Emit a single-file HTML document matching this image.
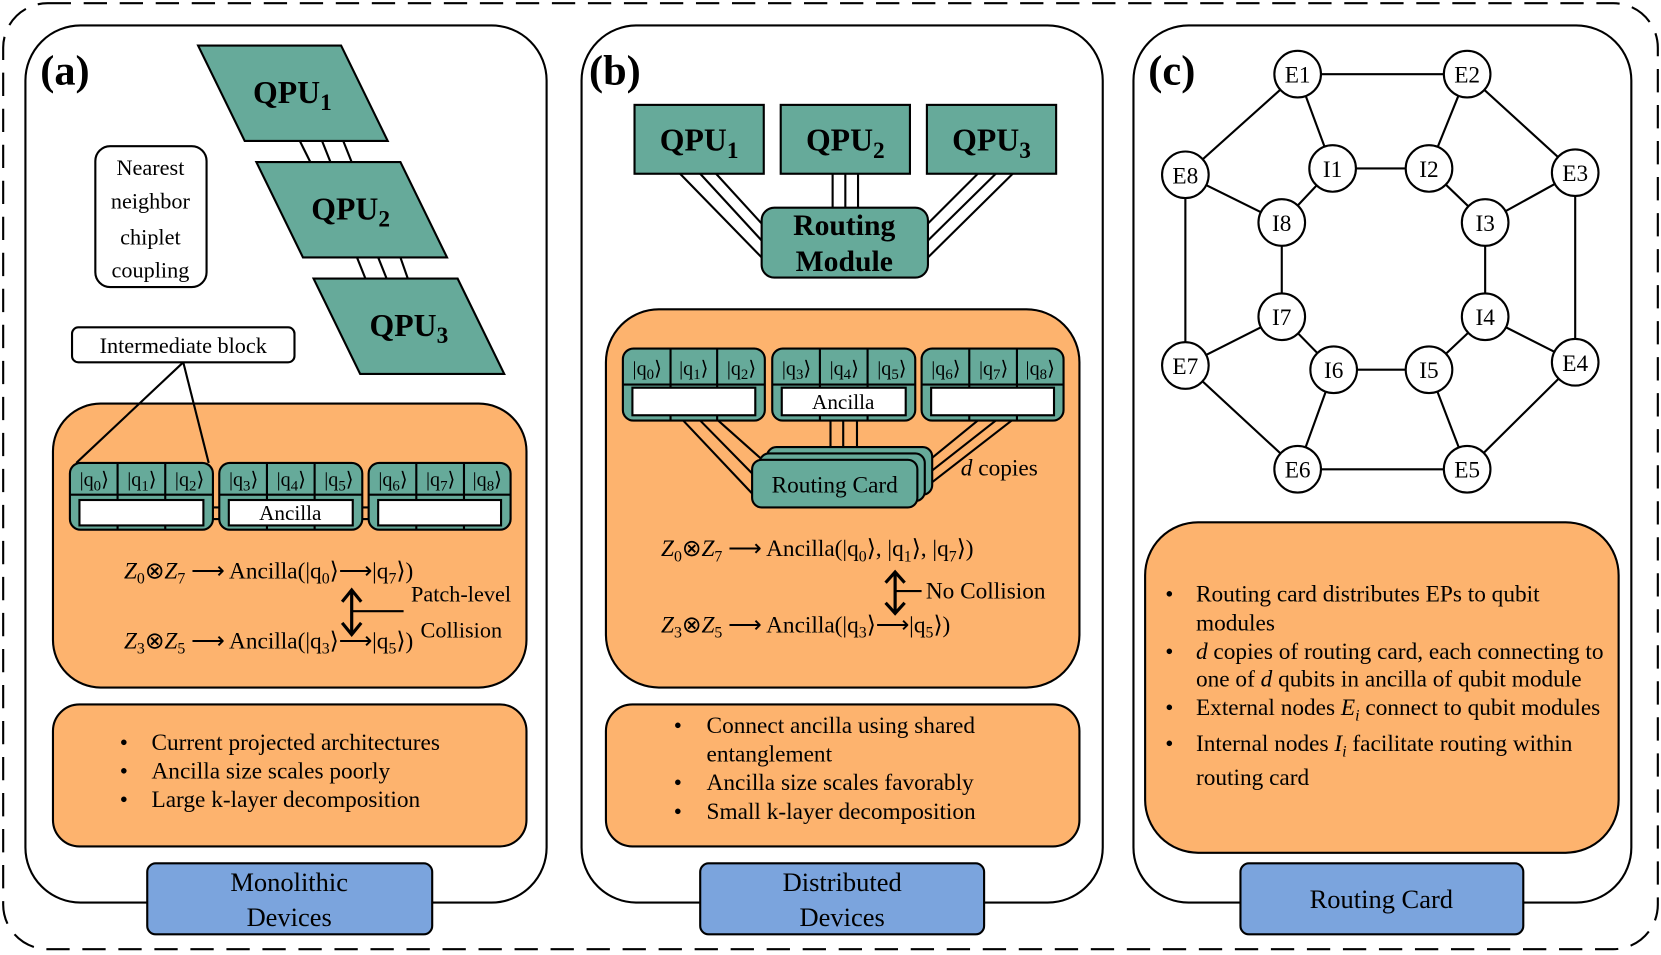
<!DOCTYPE html>
<html><head><meta charset="utf-8"><style>
html,body{margin:0;padding:0;background:#fff;width:1661px;height:955px;overflow:hidden}
svg{display:block}
text{font-family:"Liberation Serif",serif;fill:#000}
.b{font-weight:bold}
</style></head><body>
<svg width="1661" height="955" viewBox="0 0 1568 901.5" xmlns="http://www.w3.org/2000/svg">
<g fill="none" stroke="#000" stroke-width="2">
<rect x="3" y="3" width="1562" height="893" rx="42" stroke-dasharray="22 12"/>
<rect x="24" y="24" width="492" height="828" rx="52"/>
<rect x="549" y="24" width="492" height="828" rx="52"/>
<rect x="1070" y="24" width="470" height="828" rx="52"/>
</g>
<text x="38" y="80" font-size="40" class="b">(a)</text>
<text x="556" y="80" font-size="40" class="b">(b)</text>
<text x="1084" y="80" font-size="40" class="b">(c)</text>

<!-- Panel a -->
<g stroke="#000" stroke-width="2">
<line x1="283" y1="133" x2="293" y2="153"/><line x1="304" y1="133" x2="312" y2="153"/><line x1="324" y1="133" x2="332" y2="153"/>
<line x1="337" y1="243" x2="345" y2="263"/><line x1="357" y1="243" x2="365" y2="263"/><line x1="378" y1="243" x2="385" y2="263"/>
</g>
<g fill="#66aa9a" stroke="#000" stroke-width="2">
<polygon points="187,43 322,43 366,133 231,133"/>
<polygon points="242,153 378,153 422,243 286,243"/>
<polygon points="296,263 432,263 476,353 340,353"/>
</g>
<text x="276" y="97" font-size="30" class="b" text-anchor="middle">QPU<tspan font-size="22" dy="7">1</tspan></text>
<text x="331" y="207" font-size="30" class="b" text-anchor="middle">QPU<tspan font-size="22" dy="7">2</tspan></text>
<text x="386" y="317" font-size="30" class="b" text-anchor="middle">QPU<tspan font-size="22" dy="7">3</tspan></text>
<rect x="90" y="138" width="105" height="133" rx="14" fill="#fff" stroke="#000" stroke-width="2"/>
<g font-size="21" text-anchor="middle"><text x="142" y="165">Nearest</text><text x="142" y="197">neighbor</text><text x="142" y="231">chiplet</text><text x="142" y="262">coupling</text></g>
<rect x="50" y="381" width="447" height="268" rx="45" fill="#fdb36e" stroke="#000" stroke-width="2"/>
<rect x="68" y="309" width="210" height="33" rx="6" fill="#fff" stroke="#000" stroke-width="2"/>
<text x="173" y="333" font-size="21" text-anchor="middle">Intermediate block</text>
<g stroke="#000" stroke-width="2"><line x1="173" y1="342" x2="72" y2="437"/><line x1="173" y1="342" x2="197" y2="437"/></g>

<g stroke="#000" stroke-width="2">
<line x1="201" y1="479" x2="207" y2="479"/><line x1="201" y1="490" x2="207" y2="490"/>
<line x1="342" y1="479" x2="348" y2="479"/><line x1="342" y1="490" x2="348" y2="490"/>
<rect x="66" y="437" width="135" height="63" rx="10" fill="#66aa9a"/>
<rect x="207" y="437" width="135" height="63" rx="10" fill="#66aa9a"/>
<rect x="348" y="437" width="134" height="63" rx="10" fill="#66aa9a"/>
<line x1="66" y1="467" x2="201" y2="467"/><line x1="207" y1="467" x2="342" y2="467"/><line x1="348" y1="467" x2="482" y2="467"/>
<line x1="111" y1="437" x2="111" y2="500"/><line x1="156" y1="437" x2="156" y2="500"/>
<line x1="252" y1="437" x2="252" y2="500"/><line x1="297" y1="437" x2="297" y2="500"/>
<line x1="393" y1="437" x2="393" y2="500"/><line x1="438" y1="437" x2="438" y2="500"/>
<rect x="75" y="472" width="117" height="24" fill="#fff"/>
<rect x="216" y="472" width="117" height="24" fill="#fff"/>
<rect x="357" y="472" width="116" height="24" fill="#fff"/>
</g>
<text x="274" y="491" font-size="20" text-anchor="middle">Ancilla</text>
<g font-size="19" text-anchor="middle">
<text x="89" y="459">|q<tspan font-size="14" dy="4">0</tspan><tspan dy="-4">⟩</tspan></text>
<text x="134" y="459">|q<tspan font-size="14" dy="4">1</tspan><tspan dy="-4">⟩</tspan></text>
<text x="179" y="459">|q<tspan font-size="14" dy="4">2</tspan><tspan dy="-4">⟩</tspan></text>
<text x="230" y="459">|q<tspan font-size="14" dy="4">3</tspan><tspan dy="-4">⟩</tspan></text>
<text x="275" y="459">|q<tspan font-size="14" dy="4">4</tspan><tspan dy="-4">⟩</tspan></text>
<text x="320" y="459">|q<tspan font-size="14" dy="4">5</tspan><tspan dy="-4">⟩</tspan></text>
<text x="371" y="459">|q<tspan font-size="14" dy="4">6</tspan><tspan dy="-4">⟩</tspan></text>
<text x="416" y="459">|q<tspan font-size="14" dy="4">7</tspan><tspan dy="-4">⟩</tspan></text>
<text x="460" y="459">|q<tspan font-size="14" dy="4">8</tspan><tspan dy="-4">⟩</tspan></text>
</g>
<g font-size="22">
<text x="117" y="546"><tspan font-style="italic">Z</tspan><tspan font-size="15" dy="5">0</tspan><tspan dy="-5">⊗</tspan><tspan font-style="italic">Z</tspan><tspan font-size="15" dy="5">7</tspan><tspan dy="-5"> ⟶ Ancilla(|q</tspan><tspan font-size="15" dy="5">0</tspan><tspan dy="-5">⟩⟶|q</tspan><tspan font-size="15" dy="5">7</tspan><tspan dy="-5">⟩)</tspan></text>
<text x="117" y="612"><tspan font-style="italic">Z</tspan><tspan font-size="15" dy="5">3</tspan><tspan dy="-5">⊗</tspan><tspan font-style="italic">Z</tspan><tspan font-size="15" dy="5">5</tspan><tspan dy="-5"> ⟶ Ancilla(|q</tspan><tspan font-size="15" dy="5">3</tspan><tspan dy="-5">⟩⟶|q</tspan><tspan font-size="15" dy="5">5</tspan><tspan dy="-5">⟩)</tspan></text>
</g>
<g font-size="21">
<text x="388" y="568">Patch-level</text>
<text x="397" y="602">Collision</text>
</g>
<g stroke="#000" stroke-width="3" fill="none">
<line x1="332" y1="557" x2="332" y2="599"/><polyline points="323,568 332,557 341,568"/><polyline points="323,588 332,599 341,588"/>
<line x1="332" y1="577" x2="381" y2="577" stroke-width="2"/>
</g>
<rect x="50" y="665" width="447" height="134" rx="25" fill="#fdb36e" stroke="#000" stroke-width="2"/>
<g font-size="22">
<text x="113" y="708">•</text><text x="143" y="708">Current projected architectures</text>
<text x="113" y="735">•</text><text x="143" y="735">Ancilla size scales poorly</text>
<text x="113" y="762">•</text><text x="143" y="762">Large k-layer decomposition</text>
</g>
<rect x="139" y="815" width="269" height="67" rx="8" fill="#7ba4dd" stroke="#000" stroke-width="2"/>
<g font-size="25" text-anchor="middle"><text x="273" y="841">Monolithic</text><text x="273" y="874">Devices</text></g>

<!-- Panel b -->
<g stroke="#000" stroke-width="2">
<line x1="642" y1="164" x2="719" y2="243"/><line x1="661" y1="164" x2="719" y2="227"/><line x1="676" y1="164" x2="719" y2="211"/>
<line x1="786" y1="164" x2="786" y2="196"/><line x1="798" y1="164" x2="798" y2="196"/><line x1="810" y1="164" x2="810" y2="196"/>
<line x1="923" y1="164" x2="876" y2="211"/><line x1="940" y1="164" x2="876" y2="227"/><line x1="956" y1="164" x2="876" y2="243"/>
</g>
<g fill="#66aa9a" stroke="#000" stroke-width="2">
<rect x="599" y="99" width="122" height="65"/>
<rect x="737" y="99" width="122" height="65"/>
<rect x="875" y="99" width="122" height="65"/>
<rect x="719" y="196" width="157" height="66" rx="12"/>
</g>
<text x="660" y="142" font-size="30" class="b" text-anchor="middle">QPU<tspan font-size="22" dy="7">1</tspan></text>
<text x="798" y="142" font-size="30" class="b" text-anchor="middle">QPU<tspan font-size="22" dy="7">2</tspan></text>
<text x="936" y="142" font-size="30" class="b" text-anchor="middle">QPU<tspan font-size="22" dy="7">3</tspan></text>
<text x="797" y="222" font-size="28" class="b" text-anchor="middle">Routing</text>
<text x="797" y="256" font-size="28" class="b" text-anchor="middle">Module</text>

<rect x="572" y="292" width="447" height="357" rx="50" fill="#fdb36e" stroke="#000" stroke-width="2"/>
<g stroke="#000" stroke-width="2">
<line x1="645" y1="397" x2="712" y2="468"/><line x1="661" y1="397" x2="716" y2="453"/><line x1="678" y1="397" x2="724" y2="438"/>
<line x1="784" y1="397" x2="784" y2="434"/><line x1="796" y1="397" x2="796" y2="428"/><line x1="809" y1="397" x2="809" y2="422"/>
<line x1="923" y1="397" x2="874" y2="437"/><line x1="940" y1="397" x2="870" y2="452"/><line x1="955" y1="397" x2="866" y2="466"/>
</g>
<g fill="#66aa9a" stroke="#000" stroke-width="2">
<rect x="724" y="422" width="156" height="45" rx="9"/>
<rect x="717" y="428" width="156" height="45" rx="9"/>
<rect x="710" y="434" width="156" height="45" rx="9"/>
<rect x="588" y="329" width="134" height="68" rx="10"/>
<rect x="729" y="329" width="135" height="68" rx="10"/>
<rect x="870" y="329" width="134" height="68" rx="10"/>
</g>
<g stroke="#000" stroke-width="2">
<line x1="588" y1="363" x2="722" y2="363"/><line x1="729" y1="363" x2="864" y2="363"/><line x1="870" y1="363" x2="1004" y2="363"/>
<line x1="633" y1="329" x2="633" y2="397"/><line x1="677" y1="329" x2="677" y2="397"/>
<line x1="774" y1="329" x2="774" y2="397"/><line x1="819" y1="329" x2="819" y2="397"/>
<line x1="915" y1="329" x2="915" y2="397"/><line x1="960" y1="329" x2="960" y2="397"/>
<rect x="597" y="366" width="116" height="26" fill="#fff"/>
<rect x="738" y="366" width="117" height="26" fill="#fff"/>
<rect x="879" y="366" width="116" height="26" fill="#fff"/>
</g>
<text x="796" y="386" font-size="20" text-anchor="middle">Ancilla</text>
<g font-size="19" text-anchor="middle">
<text x="611" y="354">|q<tspan font-size="14" dy="4">0</tspan><tspan dy="-4">⟩</tspan></text>
<text x="655" y="354">|q<tspan font-size="14" dy="4">1</tspan><tspan dy="-4">⟩</tspan></text>
<text x="700" y="354">|q<tspan font-size="14" dy="4">2</tspan><tspan dy="-4">⟩</tspan></text>
<text x="752" y="354">|q<tspan font-size="14" dy="4">3</tspan><tspan dy="-4">⟩</tspan></text>
<text x="797" y="354">|q<tspan font-size="14" dy="4">4</tspan><tspan dy="-4">⟩</tspan></text>
<text x="842" y="354">|q<tspan font-size="14" dy="4">5</tspan><tspan dy="-4">⟩</tspan></text>
<text x="893" y="354">|q<tspan font-size="14" dy="4">6</tspan><tspan dy="-4">⟩</tspan></text>
<text x="938" y="354">|q<tspan font-size="14" dy="4">7</tspan><tspan dy="-4">⟩</tspan></text>
<text x="982" y="354">|q<tspan font-size="14" dy="4">8</tspan><tspan dy="-4">⟩</tspan></text>
</g>
<g font-size="22">
<text x="788" y="465" text-anchor="middle">Routing Card</text>
<text x="907" y="449"><tspan font-style="italic">d</tspan> copies</text>
<text x="624" y="525"><tspan font-style="italic">Z</tspan><tspan font-size="15" dy="5">0</tspan><tspan dy="-5">⊗</tspan><tspan font-style="italic">Z</tspan><tspan font-size="15" dy="5">7</tspan><tspan dy="-5"> ⟶ Ancilla(|q</tspan><tspan font-size="15" dy="5">0</tspan><tspan dy="-5">⟩, |q</tspan><tspan font-size="15" dy="5">1</tspan><tspan dy="-5">⟩, |q</tspan><tspan font-size="15" dy="5">7</tspan><tspan dy="-5">⟩)</tspan></text>
<text x="624" y="597"><tspan font-style="italic">Z</tspan><tspan font-size="15" dy="5">3</tspan><tspan dy="-5">⊗</tspan><tspan font-style="italic">Z</tspan><tspan font-size="15" dy="5">5</tspan><tspan dy="-5"> ⟶ Ancilla(|q</tspan><tspan font-size="15" dy="5">3</tspan><tspan dy="-5">⟩⟶|q</tspan><tspan font-size="15" dy="5">5</tspan><tspan dy="-5">⟩)</tspan></text>
<text x="874" y="565">No Collision</text>
</g>
<g stroke="#000" stroke-width="3" fill="none">
<line x1="845" y1="540" x2="845" y2="579"/><polyline points="836,550 845,540 854,550"/><polyline points="836,569 845,579 854,569"/>
<line x1="845" y1="558" x2="870" y2="558" stroke-width="2"/>
</g>
<rect x="572" y="665" width="447" height="134" rx="25" fill="#fdb36e" stroke="#000" stroke-width="2"/>
<g font-size="22">
<text x="636" y="692">•</text><text x="667" y="692">Connect ancilla using shared</text>
<text x="667" y="719">entanglement</text>
<text x="636" y="746">•</text><text x="667" y="746">Ancilla size scales favorably</text>
<text x="636" y="773">•</text><text x="667" y="773">Small k-layer decomposition</text>
</g>
<rect x="661" y="815" width="268" height="67" rx="8" fill="#7ba4dd" stroke="#000" stroke-width="2"/>
<g font-size="25" text-anchor="middle"><text x="795" y="841">Distributed</text><text x="795" y="874">Devices</text></g>

<!-- Panel c -->
<g stroke="#000" stroke-width="2">
<polyline fill="none" points="1225,70 1385,70 1487,163 1487,342 1385,443 1225,443 1119,345 1119,165 1225,70"/>
<polyline fill="none" points="1258,159 1349,159 1402,210 1402,299 1349,349 1259,349 1210,299 1210,210 1258,159"/>
<line x1="1225" y1="70" x2="1258" y2="159"/><line x1="1385" y1="70" x2="1349" y2="159"/>
<line x1="1487" y1="163" x2="1402" y2="210"/><line x1="1487" y1="342" x2="1402" y2="299"/>
<line x1="1385" y1="443" x2="1349" y2="349"/><line x1="1225" y1="443" x2="1259" y2="349"/>
<line x1="1119" y1="345" x2="1210" y2="299"/><line x1="1119" y1="165" x2="1210" y2="210"/>
<g fill="#fff">
<circle cx="1225" cy="70" r="22"/><circle cx="1385" cy="70" r="22"/><circle cx="1487" cy="163" r="22"/><circle cx="1487" cy="342" r="22"/>
<circle cx="1385" cy="443" r="22"/><circle cx="1225" cy="443" r="22"/><circle cx="1119" cy="345" r="22"/><circle cx="1119" cy="165" r="22"/>
<circle cx="1258" cy="159" r="22"/><circle cx="1349" cy="159" r="22"/><circle cx="1402" cy="210" r="22"/><circle cx="1402" cy="299" r="22"/>
<circle cx="1349" cy="349" r="22"/><circle cx="1259" cy="349" r="22"/><circle cx="1210" cy="299" r="22"/><circle cx="1210" cy="210" r="22"/>
</g>
</g>
<g font-size="22" text-anchor="middle">
<text x="1225" y="78">E1</text><text x="1385" y="78">E2</text><text x="1487" y="171">E3</text><text x="1487" y="350">E4</text>
<text x="1385" y="451">E5</text><text x="1225" y="451">E6</text><text x="1119" y="353">E7</text><text x="1119" y="173">E8</text>
<text x="1258" y="167">I1</text><text x="1349" y="167">I2</text><text x="1402" y="218">I3</text><text x="1402" y="307">I4</text>
<text x="1349" y="357">I5</text><text x="1259" y="357">I6</text><text x="1210" y="307">I7</text><text x="1210" y="218">I8</text>
</g>
<rect x="1081" y="493" width="447" height="312" rx="50" fill="#fdb36e" stroke="#000" stroke-width="2"/>
<g font-size="22">
<text x="1100" y="568">•</text><text x="1129" y="568">Routing card distributes EPs to qubit</text>
<text x="1129" y="595">modules</text>
<text x="1100" y="622">•</text><text x="1129" y="622"><tspan font-style="italic">d</tspan> copies of routing card, each connecting to</text>
<text x="1129" y="648">one of <tspan font-style="italic">d</tspan> qubits in ancilla of qubit module</text>
<text x="1100" y="675">•</text><text x="1129" y="675">External nodes <tspan font-style="italic">E</tspan><tspan font-style="italic" font-size="15" dy="5">i</tspan><tspan dy="-5"> connect to qubit modules</tspan></text>
<text x="1100" y="709">•</text><text x="1129" y="709">Internal nodes <tspan font-style="italic">I</tspan><tspan font-style="italic" font-size="15" dy="5">i</tspan><tspan dy="-5"> facilitate routing within</tspan></text>
<text x="1129" y="741">routing card</text>
</g>
<rect x="1171" y="815" width="267" height="67" rx="8" fill="#7ba4dd" stroke="#000" stroke-width="2"/>
<text x="1304" y="857" font-size="25" text-anchor="middle">Routing Card</text>
</svg>
</body></html>
